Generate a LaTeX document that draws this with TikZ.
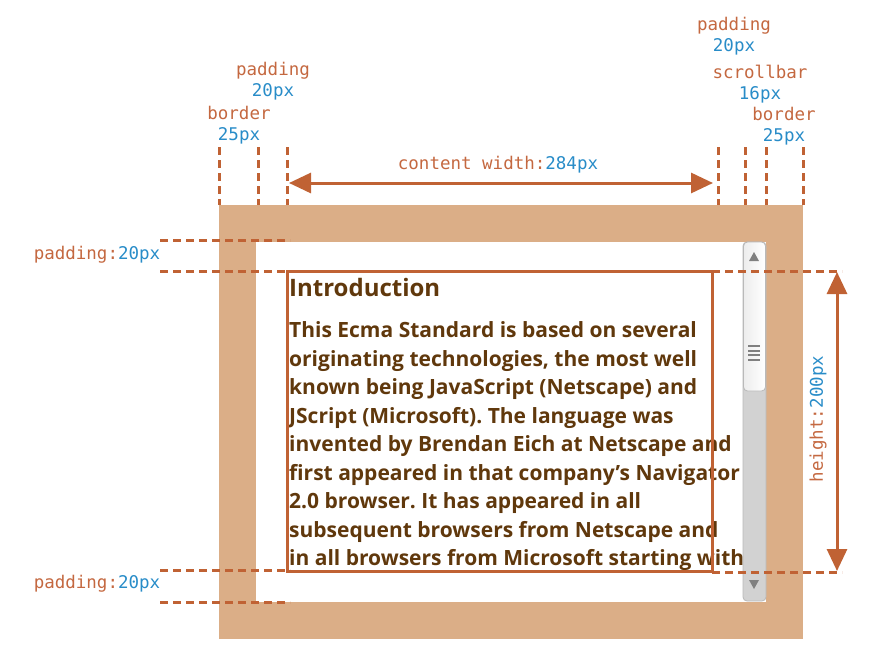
\documentclass[tikz,border=0pt]{standalone}
\usepackage{fontspec}
\setmainfont{Open Sans}
\setmonofont{DejaVu Sans Mono}
\usetikzlibrary{arrows.meta}
\frenchspacing
\definecolor{boxcolor0000}{RGB}{219,174,135}
\definecolor{boxcolor0001}{RGB}{255,255,255}
\definecolor{boxcolor0002}{RGB}{192,98,52}
\definecolor{boxcolor0003}{RGB}{196,104,64}
\definecolor{boxcolor0004}{RGB}{40,140,200}
\definecolor{boxcolor0005}{RGB}{96,56,12}
\definecolor{boxcolor0006}{RGB}{210,210,210}
\definecolor{boxcolor0007}{RGB}{185,185,185}
\definecolor{boxcolor0008}{RGB}{128,128,128}
\begin{document}
\begin{tikzpicture}[yscale=-1
,pstyle1/.style={color=boxcolor0002,line width=3pt,dash pattern=on 8pt off 5pt}
,pstyle2/.style={color=boxcolor0002,line width=3pt,{Triangle[length=22pt,width=20pt]}-{Triangle[length=22pt,width=20pt]}}
,tstyle1/.style={font=\ttfamily\fontsize{17.5}{21}\selectfont,color=boxcolor0003,inner sep=0pt,align=center}
,tstyle2/.style={font=\bfseries\fontsize{21}{26}\selectfont,color=boxcolor0005,anchor=base west,inner sep=0pt}
]
\useasboundingbox (0pt,0pt) rectangle (884pt,672pt);
\fill[boxcolor0000] (219pt,205pt) rectangle (803pt,639pt);
\fill[boxcolor0001] (256pt,242pt) rectangle (766pt,602pt);
\node (intro) at (289pt,296pt)[tstyle2,font=\bfseries\fontsize{24}{28}\selectfont]{Introduction};
\node (line1) at (289pt,337pt)[tstyle2]{This Ecma Standard is based on several};
\node (line2) at (289pt,366pt)[tstyle2]{originating technologies, the most well};
\node (line3) at (289pt,394pt)[tstyle2]{known being JavaScript (Netscape) and};
\node (line4) at (289pt,423pt)[tstyle2]{JScript (Microsoft). The language was};
\node (line5) at (289pt,451pt)[tstyle2]{invented by Brendan Eich at Netscape and};
\node (line6) at (289pt,480pt)[tstyle2]{first appeared in that company’s Navigator};
\node (line7) at (289pt,508pt)[tstyle2]{2.0 browser. It has appeared in all};
\node (line8) at (289pt,537pt)[tstyle2]{subsequent browsers from Netscape and};
\node (line9) at (289pt,565pt)[tstyle2]{in all browsers from Microsoft starting with};
\draw[color=boxcolor0007,fill=boxcolor0006,line width=0.8pt,rounded corners=4pt] (743pt,242pt) rectangle (766pt,601pt);
\shade[left color=boxcolor0006!40,right color=white,draw=boxcolor0007,line width=0.8pt,rounded corners=4pt] (743.5pt,242pt) rectangle (765.5pt,391pt);
\fill[boxcolor0008] (749pt,261pt) -- (759pt,261pt) -- (754pt,252pt) -- cycle;
\fill[boxcolor0008] (749pt,580pt) -- (759pt,580pt) -- (754pt,589pt) -- cycle;
\draw[color=boxcolor0008,line width=2pt] (748pt,346pt) -- (760pt,346pt) (748pt,350.5pt) -- (760pt,350.5pt) (748pt,355pt) -- (760pt,355pt) (748pt,359.5pt) -- (760pt,359.5pt);
\draw[color=boxcolor0002,line width=3pt] (287pt,271pt) rectangle (712pt,571pt);
\draw[pstyle1] (219pt,147pt) -- (219pt,205pt);
\draw[pstyle1] (258pt,147pt) -- (258pt,205pt);
\draw[pstyle1] (287pt,147pt) -- (287pt,205pt);
\draw[pstyle1] (718pt,147pt) -- (718pt,205pt);
\draw[pstyle1] (745pt,147pt) -- (745pt,205pt);
\draw[pstyle1] (766pt,147pt) -- (766pt,205pt);
\draw[pstyle1] (803pt,147pt) -- (803pt,205pt);
\draw[pstyle1] (160pt,240pt) -- (290pt,240pt);
\draw[pstyle1] (160pt,271pt) -- (290pt,271pt);
\draw[pstyle1] (160pt,570pt) -- (290pt,570pt);
\draw[pstyle1] (160pt,602pt) -- (290pt,602pt);
\draw[pstyle1] (712pt,271pt) -- (842pt,271pt);
\draw[pstyle1] (712pt,572pt) -- (842pt,572pt);
\coordinate (wleft) at (289pt,183pt);
\coordinate (wright) at (713pt,183pt);
\draw[pstyle2] (wleft) -- (wright);
\coordinate (htop) at (837pt,272pt);
\coordinate (hbottom) at (837pt,571pt);
\draw[pstyle2] (htop) -- (hbottom);
\node (cwidth) at (498pt,165pt)[tstyle1]{content width:\textcolor{boxcolor0004}{284px}};
\node (hlabel) at (818pt,419pt)[tstyle1,rotate=90]{height:\textcolor{boxcolor0004}{200px}};
\node (ptopl) at (97pt,255pt)[tstyle1]{padding:\textcolor{boxcolor0004}{20px}};
\node (pbotl) at (97pt,584pt)[tstyle1]{padding:\textcolor{boxcolor0004}{20px}};
\node (padl) at (273pt,81pt)[tstyle1]{padding\\\textcolor{boxcolor0004}{20px}};
\node (borl) at (239pt,125.5pt)[tstyle1]{border\\\textcolor{boxcolor0004}{25px}};
\node (padr) at (734pt,36.5pt)[tstyle1]{padding\\\textcolor{boxcolor0004}{20px}};
\node (scrr) at (760pt,84.5pt)[tstyle1]{scrollbar\\\textcolor{boxcolor0004}{16px}};
\node (borr) at (784pt,126.5pt)[tstyle1]{border\\\textcolor{boxcolor0004}{25px}};
\end{tikzpicture}
\end{document}
